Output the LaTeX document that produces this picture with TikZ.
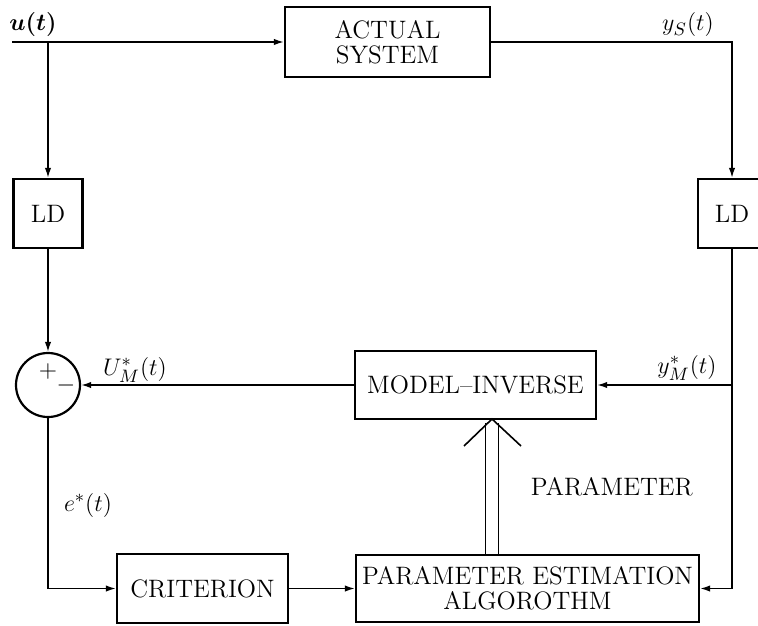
\documentclass[tikz,border=0pt,12pt]{standalone}
\usepackage{amsmath}
\usetikzlibrary{arrows.meta,positioning,calc}

\begin{document}
\begin{tikzpicture}[x=1pt,y=-1pt,line width=0.8pt,>={Latex[length=5pt,width=3.2pt]},
		every node/.style={font=\fontsize{12.6}{13.5}\selectfont},
		block/.style={draw,rectangle,line width=1.1pt,align=center,inner sep=0pt}]
		\useasboundingbox (0,0) rectangle (379,312.5);
		% blocks
		\node[block,minimum width=102.5pt,minimum height=35pt] (actual) at (193.75,21) {ACTUAL\\[-1pt]SYSTEM};
		\node[block,minimum width=34.5pt,minimum height=34.5pt] (ld_l) at (24,106.75) {LD};
		\node[block,minimum width=34pt,minimum height=34.5pt] (ld_r) at (366,106.75) {LD};
		\node[draw,circle,line width=1.1pt,minimum size=32pt,inner sep=0pt] (sum) at (24,192.5) {};
		\node (plus) at (24,185.5) {$+$};
		\node (minus) at (33,192.5) {$-$};
		\node[block,minimum width=120.5pt,minimum height=34pt] (model) at (237.75,192.5) {MODEL--INVERSE};
		\node[block,minimum width=85.5pt,minimum height=34.5pt] (crit) at (101.25,294.25) {CRITERION};
		\node[block,minimum width=171.5pt,minimum height=33.5pt] (pea) at (263.75,294.25) {PARAMETER ESTIMATION\\[-1pt]ALGOROTHM};
		% signal labels
		\node (l_u) at (16.5,12.5) {$\boldsymbol{u(t)}$};
		\node (l_ys) at (344,12.5) {$y_S(t)$};
		\node (l_um) at (67.5,185) {$U^*_M(t)$};
		\node (l_ym) at (343.5,184) {$y^*_M(t)$};
		\node (l_e) at (44,252.5) {$e^*(t)$};
		\node[anchor=west] (l_par) at (261,243.5) {PARAMETER};
		% connectors
		\coordinate (in) at (6,21);
		\coordinate (split) at (sum |- actual.west);
		\coordinate (tap) at (ld_r |- model.east);
		\draw[->] (in) -- (actual.west);
		\draw[->] (split) -- (ld_l.north);
		\draw[->] (ld_l.south) -- (sum.north);
		\draw[->] (sum.south) |- (crit.west);
		\draw[->] (crit.east) -- (pea.west);
		\draw[->] (actual.east) -| (ld_r.north);
		\draw[->] (ld_r.south) |- (pea.east);
		\draw[->] (tap) -- (model.east);
		\draw[->] (model.west) -- (sum.east);
		% parameter transfer
		\coordinate (tip) at (246,209.5);
		\draw ($(tip |- pea.north)+(-3.25,0)$) -- ($(tip)+(-3.25,2)$);
		\draw ($(tip |- pea.north)+(3.25,0)$) -- ($(tip)+(3.25,2)$);
		\draw ($(tip)+(-14,13.5)$) -- (tip) -- ($(tip)+(14.5,13.5)$);
	\end{tikzpicture}
\end{document}
